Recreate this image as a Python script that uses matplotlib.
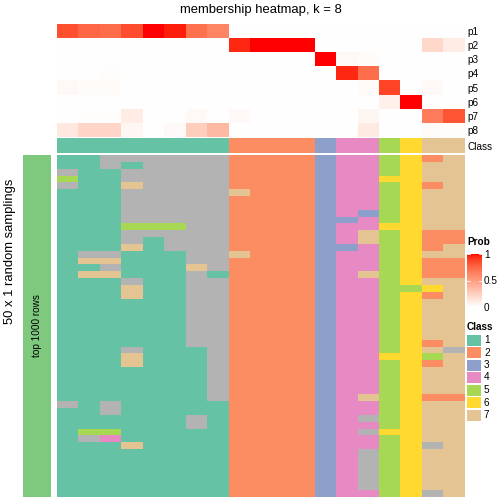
import numpy as np
import matplotlib
matplotlib.use("Agg")
import matplotlib.pyplot as plt
from matplotlib.colors import ListedColormap
from matplotlib.patches import Rectangle

plt.rcParams['font.family'] = ['Liberation Sans', 'DejaVu Sans']

# ---------------- data ----------------
row_labels = ["p1", "p2", "p3", "p4", "p5", "p6", "p7", "p8"]
p1 = [0.84, 0.75, 0.73, 0.85, 1.00, 0.97, 0.71, 0.62, 0, 0, 0, 0, 0, 0, 0, 0, 0, 0, 0]
p2 = [0, 0, 0, 0, 0, 0, 0, 0, 0.95, 1.0, 1.0, 1.0, 0, 0, 0, 0, 0, 0.20, 0.10]
p3 = [0, 0, 0, 0, 0, 0, 0, 0, 0, 0, 0, 0, 1.0, 0.03, 0.02, 0, 0, 0, 0]
p4 = [0, 0, 0.01, 0, 0, 0, 0, 0, 0, 0, 0, 0, 0, 0.95, 0.72, 0, 0, 0, 0]
p5 = [0.03, 0.02, 0.02, 0, 0, 0, 0, 0, 0, 0, 0, 0, 0, 0, 0.02, 0.88, 0, 0.03, 0]
p6 = [0, 0, 0, 0, 0, 0, 0, 0, 0, 0, 0, 0, 0, 0, 0, 0.08, 1.0, 0, 0]
p7 = [0, 0.01, 0.01, 0.10, 0, 0, 0.03, 0, 0.03, 0, 0, 0, 0, 0, 0.05, 0, 0, 0.66, 0.82]
p8 = [0.12, 0.22, 0.22, 0.05, 0, 0.03, 0.26, 0.36, 0, 0, 0, 0, 0, 0, 0.11, 0, 0, 0.02, 0.01]
sample_class = [1, 1, 1, 1, 1, 1, 1, 1, 2, 2, 2, 2, 3, 4, 4, 5, 6, 7, 7]

# class assignment in each of the 50 random samplings (rows) x 19 samples
samplings = [
    "11888888" "2222" "3445627",
    "11818888" "2222" "3445677",
    "81188888" "2222" "3445677",
    "51188888" "2222" "3446677",
    "81178888" "2222" "3445627",
    "11188888" "7222" "3445677",
    "11188888" "2222" "3445677",
    "11188888" "2222" "3445677",
    "11188888" "2222" "3435677",
    "11188888" "2222" "3345677",
    "11155588" "2222" "3446677",
    "11188888" "2222" "3475622",
    "11181888" "2222" "3475622",
    "11171888" "2222" "3345627",
    "18811188" "7222" "3445677",
    "17711188" "2222" "3445622",
    "11811178" "2222" "3445622",
    "17711181" "2222" "3475622",
    "11181188" "2222" "3445677",
    "11171188" "2222" "3445567",
    "11171188" "2222" "3445627",
    "11111188" "2222" "3445677",
    "11111188" "2222" "3445677",
    "11111188" "2222" "3445677",
    "11111188" "2222" "3445677",
    "11111188" "2222" "3445677",
    "11111188" "2222" "3445677",
    "11111188" "2222" "3445627",
    "11181118" "2222" "3445678",
    "11171118" "2222" "3446657",
    "11171118" "2222" "3445627",
    "11111118" "2222" "3445677",
    "11111118" "2222" "3445677",
    "11111118" "2222" "3445677",
    "11111118" "2222" "3445677",
    "11111118" "2222" "3475622",
    "81811111" "2222" "3445677",
    "11811111" "2222" "3445677",
    "11111181" "2222" "3485677",
    "11111181" "2222" "3445677",
    "15511111" "2222" "3486677",
    "18411111" "2222" "3445677",
    "11171111" "2222" "3445687",
    "11111111" "2222" "3485677",
    "11111111" "2222" "3485677",
    "11111111" "2222" "3485677",
    "11111111" "2222" "3485677",
    "11111111" "2222" "3485677",
    "11111111" "2222" "3485677",
    "11111111" "2222" "3445687",
]
class_labels = ["1", "2", "3", "4", "5", "6", "7"]
class_colors = ["#66C2A5", "#FC8D62", "#8DA0CB", "#E78AC3", "#A6D854", "#FFD92F", "#E5C494", "#B3B3B3"]
title = "membership heatmap, k = 8"
left_title = "50 x 1 random samplings"
left_bar_label = "top 1000 rows"
prob_ticks = [0, 0.5, 1]

# ---------------- colormap (white -> red, LAB interpolation) ----------------
def lab_to_rgb(L, a, b):
    fy = (L + 16) / 116.0
    fx = fy + a / 500.0
    fz = fy - b / 200.0
    def finv(t):
        return np.where(t > 6 / 29, t ** 3, 3 * (6 / 29) ** 2 * (t - 4 / 29))
    X = 0.95047 * finv(fx); Y = 1.0 * finv(fy); Z = 1.08883 * finv(fz)
    r = 3.2406 * X - 1.5372 * Y - 0.4986 * Z
    g = -0.9689 * X + 1.8758 * Y + 0.0415 * Z
    bb = 0.0557 * X - 0.2040 * Y + 1.0570 * Z
    rgb = np.stack([r, g, bb], axis=-1)
    rgb = np.clip(rgb, 0, 1)
    rgb = np.where(rgb <= 0.0031308, 12.92 * rgb, 1.055 * rgb ** (1 / 2.4) - 0.055)
    return np.clip(rgb, 0, 1)

t = np.linspace(0, 1, 256)
lab_cols = lab_to_rgb(100 + (53.24 - 100) * t, 80.09 * t, 67.20 * t)
prob_cmap = ListedColormap(lab_cols)
class_cmap = ListedColormap(class_colors)

# ---------------- figure ----------------
W = H = 504
fig = plt.figure(figsize=(7, 7), dpi=72)

def px_axes(x0, y0, x1, y1):
    return fig.add_axes([x0 / W, 1 - y1 / H, (x1 - x0) / W, (y1 - y0) / H])

def clean(ax):
    for s in ax.spines.values():
        s.set_visible(False)

P = np.array([p1, p2, p3, p4, p5, p6, p7, p8])

# membership heatmap
ax1 = px_axes(57, 24, 465, 137)
ax1.imshow(P, cmap=prob_cmap, vmin=0, vmax=1, aspect="auto", interpolation="nearest")
ax1.set_xticks([])
ax1.yaxis.tick_right()
ax1.set_yticks(range(len(row_labels)))
ax1.set_yticklabels(row_labels, fontsize=10)
ax1.tick_params(axis="y", length=0, pad=2)
clean(ax1)

# class annotation
ax2 = px_axes(57, 138, 465, 153)
ax2.imshow(np.array([sample_class]) - 1, cmap=class_cmap, vmin=-0.5, vmax=7.5,
           aspect="auto", interpolation="nearest")
ax2.set_xticks([])
ax2.yaxis.tick_right()
ax2.set_yticks([0])
ax2.set_yticklabels(["Class"], fontsize=10)
ax2.tick_params(axis="y", length=0, pad=2)
clean(ax2)

# samplings matrix
M = np.array([[int(c) for c in r] for r in samplings])
ax3 = px_axes(57, 155, 465, 497)
ax3.imshow(M - 1, cmap=class_cmap, vmin=-0.5, vmax=7.5, aspect="auto", interpolation="nearest")
ax3.set_xticks([]); ax3.set_yticks([])
clean(ax3)

# left bar
ax4 = px_axes(23, 155, 51, 497)
ax4.set_facecolor("#7FC97F")
ax4.set_xticks([]); ax4.set_yticks([])
clean(ax4)
ax4.text(0.5, 0.5, left_bar_label, rotation=90, ha="center", va="center",
         fontsize=10, transform=ax4.transAxes)

fig.text(10 / W, 1 - 251 / H, left_title, rotation=90, ha="center", va="center", fontsize=13)
fig.text(261 / W, 1 - 10 / H, title, ha="center", va="center", fontsize=13)

# Prob legend
fig.text(467 / W, 1 - 242 / H, "Prob", ha="left", va="center", fontsize=10, fontweight="bold")
axc = px_axes(467, 252, 482, 309)
grad = np.linspace(1, 0, 200)[:, None]
axc.imshow(grad, cmap=prob_cmap, vmin=0, vmax=1, aspect="auto", extent=[0, 1, 0, 1])
axc.set_xlim(0, 1); axc.set_ylim(0, 1)
axc.set_xticks([])
axc.yaxis.tick_right()
axc.set_yticks(prob_ticks)
axc.set_yticklabels([f"{v:g}" for v in prob_ticks], fontsize=10)
axc.tick_params(axis="y", length=0, pad=2)
axc.set_ylim(-0.04, 1.04)
for v in prob_ticks:
    axc.plot([0, 0.2], [v, v], color="white", lw=0.8)
    axc.plot([0.8, 1], [v, v], color="white", lw=0.8)
clean(axc)

# Class legend
fig.text(467 / W, 1 - 327 / H, "Class", ha="left", va="center", fontsize=10, fontweight="bold")
axl = px_axes(460, 330, 504, 425)
axl.set_xlim(460, 504); axl.set_ylim(425, 330)
axl.axis("off")
for i, lab in enumerate(class_labels):
    yc = 340 + 12.5 * i
    axl.add_patch(Rectangle((467, yc - 5.5), 14, 11, facecolor=class_colors[i], edgecolor="none"))
    axl.text(484, yc, lab, ha="left", va="center", fontsize=10)

fig.savefig("out.png", dpi=72)
